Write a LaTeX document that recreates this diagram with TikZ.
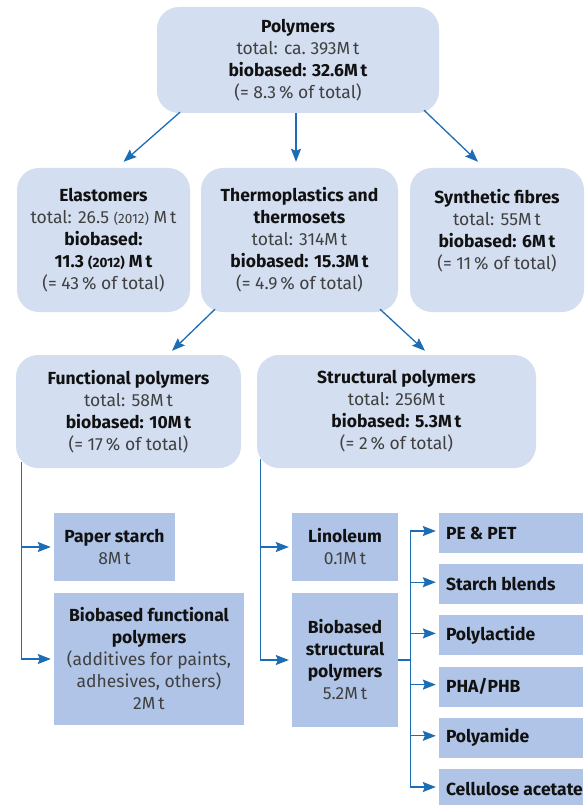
\documentclass[tikz,border=0pt]{standalone}
\usepackage{fontspec}
\setmainfont{Fira Sans}
\usetikzlibrary{arrows.meta,calc}
\definecolor{roundfill}{HTML}{D3DEF1}
\definecolor{boxfill}{HTML}{B0C4E7}
\definecolor{arrblue}{HTML}{1D6DB4}
\definecolor{txtgray}{HTML}{404040}
\definecolor{txtdark}{HTML}{111111}
\newcommand{\hd}[1]{{\bfseries\color{txtdark}#1}}
\newcommand{\sm}[1]{{\fontsize{13.5}{15}\selectfont #1}}
\begin{document}
\begin{tikzpicture}[x=1pt,y=-1pt,
  every node/.style={font=\fontsize{17.5}{22}\selectfont, text=txtgray},
  rbox/.style={fill=roundfill, rounded corners=22pt, align=center, inner sep=0pt},
  sbox/.style={fill=boxfill, align=center, inner sep=0pt},
  leaf/.style={fill=boxfill, minimum width=144pt, minimum height=40pt, inner sep=0pt, font=\fontsize{17.5}{22}\selectfont\bfseries, text=txtdark},
  arr/.style={draw=arrblue, line width=1.3pt, -{Stealth[length=13pt,width=10pt,inset=2pt]}},
  ln/.style={draw=arrblue, line width=1.3pt}]
\useasboundingbox (0,0) rectangle (587,805);
\fill[white] (0,0) rectangle (587,805);

% level 1
\node[rbox, minimum width=282pt, minimum height=106pt] (poly) at (298,60)
  {\hd{Polymers}\\total: ca.\ 393M\,t\\\hd{biobased: 32.6M\,t}\\(= 8.3\,\% of total)};

% level 2
\node[rbox, minimum width=173pt, minimum height=144pt] (elast) at (103.5,240)
  {\hd{Elastomers}\\total: 26.5 \sm{(2012)} M\,t\\\hd{biobased:}\\\hd{11.3 \sm{(2012)} M\,t}\\(= 43\,\% of total)};
\node[rbox, minimum width=197pt, minimum height=144pt] (thermo) at (299.5,240)
  {\hd{Thermoplastics and}\\\hd{thermosets}\\total: 314M\,t\\\hd{biobased: 15.3M\,t}\\(= 4.9\,\% of total)};
\node[rbox, minimum width=174pt, minimum height=144pt] (synth) at (497,240)
  {\hd{Synthetic fibres}\\total: 55M\,t\\\hd{biobased: 6M\,t}\\(= 11\,\% of total)\\\mbox{}};

% level 3
\node[rbox, minimum width=225pt, minimum height=113pt] (func) at (128.5,411.5)
  {\hd{Functional polymers}\\total: 58M\,t\\\hd{biobased: 10M\,t}\\(= 17\,\% of total)};
\node[rbox, minimum width=279pt, minimum height=113pt] (struct) at (396.5,411.5)
  {\hd{Structural polymers}\\total: 256M\,t\\\hd{biobased: 5.3M\,t}\\(= 2\,\% of total)};

% level 4
\node[sbox, minimum width=121pt, minimum height=68pt] (paper) at (114.5,547)
  {\hd{Paper starch}\\8M\,t};
\node[sbox, minimum width=190pt, minimum height=132pt] (bfunc) at (149,659)
  {\hd{Biobased functional}\\\hd{polymers}\\(additives for paints,\\adhesives, others)\\2M\,t};
\node[sbox, minimum width=106pt, minimum height=68pt] (lino) at (345,547)
  {\hd{Linoleum}\\0.1M\,t};
\node[sbox, minimum width=106pt, minimum height=134pt] (bstruct) at (345,660)
  {\hd{Biobased}\\\hd{structural}\\\hd{polymers}\\5.2M\,t};

% leaves
\node[leaf] (pe) at (511,533) {\makebox[130pt][l]{PE \& PET}};
\node[leaf] (starch) at (511,584.2) {\makebox[130pt][l]{Starch blends}};
\node[leaf] (pla) at (511,635.4) {\makebox[130pt][l]{Polylactide}};
\node[leaf] (pha) at (511,686.6) {\makebox[130pt][l]{PHA/PHB}};
\node[leaf] (pa) at (511,737.8) {\makebox[130pt][l]{Polyamide}};
\node[leaf] (ca) at (511,789) {\makebox[130pt][l]{Cellulose acetate}};

% arrows level 1 -> 2
\draw[arr] ($(poly.south)+(-118,-1)$) -- ($(elast.north)+(20,-6)$);
\draw[arr] ($(poly.south)+(-2,0)$) -- ($(thermo.north)+(-3.5,-6)$);
\draw[arr] ($(poly.south)+(126,-3)$) -- ($(synth.north)+(-19,-6)$);

% arrows level 2 -> 3
\draw[arr] ($(thermo.south)+(-84.5,-3)$) -- ($(func.north)+(43.5,-4)$);
\draw[arr] ($(thermo.south)+(80.5,-3)$) -- ($(struct.north)+(28.5,-4)$);

% functional branch
\draw[arr, shorten >=3pt] ($(func.south west)+(6,-6)$) |- (paper.west);
\draw[arr, shorten >=3pt] ($(func.south west)+(6,-6)$) |- (bfunc.west);

% structural branch
\draw[arr, shorten >=3pt] ($(struct.south west)+(4,-9)$) |- (lino.west);
\draw[arr, shorten >=3pt] ($(struct.south west)+(4,-9)$) |- (bstruct.west);

% fan
\draw[ln] (bstruct.east) -- ++(12,0) coordinate (fan);
\foreach \n in {pe,starch,pla,pha,pa,ca}
  \draw[arr, shorten >=3pt] (fan) |- ($(\n.west)+(0,-2)$);
\end{tikzpicture}
\end{document}
